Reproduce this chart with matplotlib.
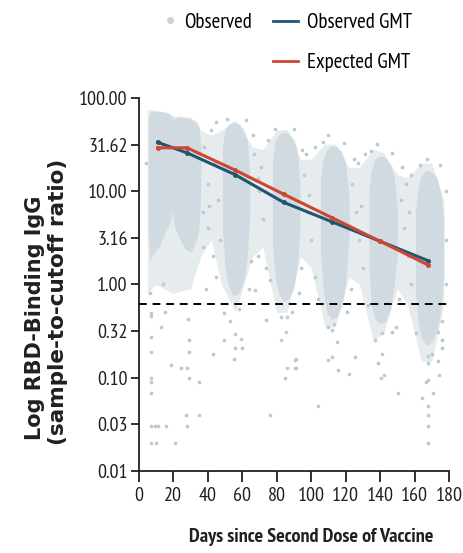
import matplotlib
matplotlib.use("Agg")
from matplotlib import pyplot as plt
from matplotlib.lines import Line2D

# GMT curves (days since second dose, sample-to-cutoff ratio)
gmt_days = [11, 28, 56, 84, 112, 140, 168]
observed_gmt = [33.4, 25.8, 15.0, 7.6, 4.7, 2.9, 1.79]
expected_gmt = [29.2, 29.2, 16.8, 9.3, 5.2, 2.9, 1.61]

threshold = 0.62

# dense cores of the observed values, one per sampling visit
core_a_days = [5.5, 6.5, 9, 12, 15, 18, 19.5, 21, 24, 27, 30, 33, 35, 36]
core_a_high = [62, 70, 72, 72, 71, 68, 60, 60, 63, 61, 60, 57, 50, 30]
core_a_low = [3.5, 1.8, 2.2, 2.6, 3.5, 4.5, 6, 4, 3.0, 2.4, 2.2, 2.8, 4, 10]

core_b_days = [48.5, 50, 52, 55, 58, 61, 63, 64.5]
core_b_high = [30, 45, 52, 55, 53, 46, 35, 15]
core_b_low = [4, 1.6, 0.95, 0.75, 0.8, 1.1, 2, 6]

core_c_days = [77.5, 79, 81, 84, 87, 90, 92, 93.5]
core_c_high = [20, 34, 40, 43, 42, 36, 28, 12]
core_c_low = [3, 1.2, 0.8, 0.65, 0.7, 0.9, 1.6, 4]

core_d_days = [105.5, 107, 109, 112, 115, 118, 120, 122]
core_d_high = [14, 22, 28, 31, 30, 26, 20, 9]
core_d_low = [2, 0.9, 0.5, 0.42, 0.45, 0.6, 1.0, 3]

core_e_days = [133.5, 135, 137, 140, 143, 146, 148, 150]
core_e_high = [10, 17, 22, 24, 23, 19, 15, 7]
core_e_low = [1.5, 0.6, 0.42, 0.38, 0.4, 0.55, 0.9, 2]

core_f_days = [160.5, 162, 164, 167, 170, 173, 175, 177]
core_f_high = [6, 11, 15, 17, 16, 14, 10, 5]
core_f_low = [0.9, 0.4, 0.26, 0.22, 0.24, 0.32, 0.5, 1.2]

# sparser spread of values around and between the visits
halo_days = [5, 10, 20, 30, 36, 42, 48, 56, 66, 72, 80, 86, 94, 100, 108,
             114, 122, 128, 136, 142, 150, 156, 164, 170, 177]
halo_high = [75, 74, 65, 62, 45, 40, 45, 58, 30, 28, 45, 46, 22, 22, 32,
             32, 18, 18, 28, 26, 15, 14, 20, 20, 8]
halo_low = [0.8, 1.0, 0.8, 0.9, 2, 3, 1, 0.5, 2, 2.5, 0.5, 0.5, 2, 1.5, 0.35,
            0.35, 1.2, 1, 0.25, 0.3, 0.9, 0.6, 0.15, 0.15, 0.6]

# individual low or isolated observations
pt_days = [7.3, 7.3, 14.1, 6.4, 15.1, 13.1, 7.3, 7.3, 18.9, 24.7, 28.2, 7.3,
           7.3, 7.3, 29.2, 29.2, 28.6, 29.0, 35.0, 27.3, 35.0, 7.3, 9.2, 11.2,
           16.0, 28.2, 7.3, 10.2, 21.2, 43.1, 49.3, 49.3, 53.1, 56.0, 59.5,
           55.7, 60.1, 55.3, 67.3, 74.0, 76.3, 82.7, 82.7, 85.6, 86.2, 85.0,
           91.4, 91.4, 88.9, 90.7, 90.7, 110, 112, 114.8, 110, 112, 115.4,
           122.2, 125.5, 104.2, 137.1, 138.6, 141.3, 142.5, 140.5, 146.7,
           150.2, 164.1, 168, 168, 167.6, 166.5, 170.9, 168, 168, 168, 168,
           173.8, 174.2, 175.7, 173.8,
           38, 40, 42, 44, 46, 40, 43, 45, 39, 67, 70, 72, 69, 74, 71, 96, 98,
           100, 102, 97, 124, 126, 128, 130, 127, 152, 154, 156, 158, 155,
           178, 178,
           45, 66, 75, 95, 102, 125, 131, 153, 158, 178, 110, 138, 167, 37,
           47, 64, 76, 93, 104, 121, 133, 149, 161, 176,
           51, 62, 79, 90, 107, 119, 135, 147, 163, 175, 41, 69, 99, 129,
           157, 4.5, 37, 65, 94, 123, 151, 176, 58, 86, 113, 141, 170]
pt_vals = [0.49, 0.46, 1.0, 0.80, 0.51, 0.35, 0.27, 0.19, 0.136, 0.128, 0.128,
           0.10, 0.090, 0.069, 0.25, 0.19, 0.43, 0.10, 0.089, 0.040, 0.040,
           0.030, 0.030, 0.030, 0.030, 0.030, 0.0197, 0.0197, 0.0197, 0.18,
           0.25, 0.49, 0.40, 0.29, 0.26, 0.21, 0.21, 0.157, 0.87, 0.41, 0.040,
           0.45, 0.25, 0.31, 0.128, 0.10, 0.157, 0.128, 0.51, 0.154, 0.128,
           0.35, 0.32, 0.24, 0.154, 0.165, 0.12, 0.108, 0.167, 0.049, 0.25,
           0.142, 0.18, 0.106, 0.10, 0.31, 0.069, 0.060, 0.17, 0.142, 0.094,
           0.090, 0.069, 0.049, 0.040, 0.030, 0.0197, 0.15, 0.106, 0.21, 0.31,
           30, 12, 45, 20, 8, 4, 2, 1.2, 0.9, 25, 10, 5, 2, 1.5, 18, 15, 6,
           3, 1.2, 25, 12, 6, 3, 1.5, 20, 8, 4, 2, 1, 12, 3, 1,
           55, 40, 35, 28, 30, 22, 25, 18, 15, 10, 40, 32, 22, 6,
           3, 0.9, 1.1, 0.8, 0.7, 0.5, 0.6, 0.35, 0.3, 0.25,
           60, 58, 46, 47, 34, 33, 27, 26, 19, 19, 7, 14, 9, 7,
           6, 20, 2.5, 1.8, 1.5, 0.9, 0.7, 0.4, 0.55, 0.45, 0.38, 0.3, 0.18]

y_ticks = [0.01, 10 ** -1.5, 0.1, 10 ** -0.5, 1, 10 ** 0.5, 10, 10 ** 1.5, 100]
x_ticks = list(range(0, 181, 20))

cloud = '#c8d4db'
blue = '#1e5670'
red = '#cc4630'
ink = '#231f20'
narrow = ['PT Sans Narrow', 'DejaVu Sans']

fig = plt.figure(figsize=(4.64, 5.53), dpi=100)
ax = fig.add_axes([0.299, 0.1488, 0.6687, 0.674])

ax.fill_between(halo_days, halo_low, halo_high, color=cloud, alpha=0.45,
                lw=0, zorder=1)
for d, lo, hi in [(core_a_days, core_a_low, core_a_high),
                  (core_b_days, core_b_low, core_b_high),
                  (core_c_days, core_c_low, core_c_high),
                  (core_d_days, core_d_low, core_d_high),
                  (core_e_days, core_e_low, core_e_high),
                  (core_f_days, core_f_low, core_f_high)]:
    ax.fill_between(d, lo, hi, color=cloud, alpha=0.7, lw=0, zorder=2)
ax.scatter(pt_days, pt_vals, s=7, color='#bccad2', lw=0, zorder=3)

ax.axhline(threshold, color='black', lw=1.4, ls=(0, (4, 3)), zorder=4)

ax.plot(gmt_days, observed_gmt, color=blue, lw=2.2, marker='o', ms=2.5,
        zorder=5)
ax.plot(gmt_days, expected_gmt, color=red, lw=2.2, marker='o', ms=2.5,
        zorder=6)

ax.set_yscale('log')
ax.set_xlim(0, 180)
ax.set_ylim(0.01, 100)
ax.set_yticks(y_ticks)
ax.set_yticklabels(['%.2f' % v for v in y_ticks])
ax.minorticks_off()
ax.set_xticks(x_ticks)
ax.set_xticklabels([str(v) for v in x_ticks])

for spine in ['top', 'right']:
    ax.spines[spine].set_visible(False)
for spine in ['bottom', 'left']:
    ax.spines[spine].set_linewidth(1.3)
    ax.spines[spine].set_color(ink)
ax.tick_params(axis='y', length=6, width=1.3, pad=2, color=ink)
ax.tick_params(axis='x', length=8, width=1.3, pad=4, color=ink)
for lab in ax.get_xticklabels() + ax.get_yticklabels():
    lab.set_family(narrow)
    lab.set_fontsize(14.5)
    lab.set_color(ink)

fig.text(0.670, 0.029, 'Days since Second Dose of Vaccine',
         family=narrow, fontweight='bold', fontsize=14.5, ha='center',
         va='center', color=ink)
fig.text(0.075, 1 - 440 / 553, 'Log RBD-Binding IgG', family='DejaVu Sans',
         fontweight='bold', fontsize=15, rotation=90, ha='center',
         va='bottom', color=ink)
fig.text(0.125, 1 - 445 / 553, '(sample-to-cutoff ratio)',
         family='DejaVu Sans', fontweight='bold', fontsize=15.5, rotation=90,
         ha='center', va='bottom', color=ink)

# scatter key on its own, the two GMT lines stacked to its right
fig.legend([Line2D([], [], ls='', marker='o', ms=4, color=cloud)],
           ['Observed'], frameon=False, loc='center left',
           bbox_to_anchor=(0.331, 1 - 22 / 553),
           prop={'family': narrow, 'size': 15},
           handlelength=0.6, handletextpad=0.35, borderpad=0)
fig.legend([Line2D([], [], color=blue, lw=2), Line2D([], [], color=red, lw=2)],
           ['Observed GMT', 'Expected GMT'], frameon=False, loc='upper left',
           bbox_to_anchor=(0.566, 1 - 3 / 553),
           prop={'family': narrow, 'size': 15},
           handlelength=1.2, handletextpad=0.45, borderpad=0,
           labelspacing=1.0)

fig.savefig('out.png', dpi=100)
